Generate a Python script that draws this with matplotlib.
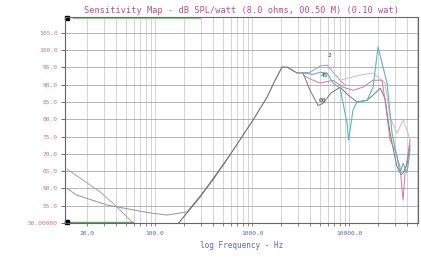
import matplotlib

matplotlib.use("Agg")
import matplotlib.pyplot as plt
from matplotlib.ticker import FixedLocator, NullFormatter, LogLocator

# --- data (Hz, dB SPL) ---
main_f = [175, 291, 593, 1024, 1428, 1727, 2038, 2296, 2911, 3356]
main_db = [50.0, 57.5, 69.7, 79.8, 86.4, 91.3, 95.1, 95.1, 93.4, 93.4]

dark_f = [3356, 3962, 4800, 5395, 6500, 8079, 9800, 12080, 15330, 17680,
          21000, 23500, 26480, 31000, 34500, 36050, 39630, 42540]
dark_db = [93.4, 88.4, 84.0, 84.6, 87.6, 89.3, 87.0, 85.0, 85.5, 87.0,
           89.0, 86.0, 76.0, 66.5, 64.0, 64.5, 67.0, 72.5]

lav_f = [2911, 3962, 5025, 5932, 6843, 8079, 9000]
lav_db = [93.4, 93.6, 95.4, 95.7, 93.6, 91.3, 90.0]

teal_f = [3356, 4256, 5025, 5932, 6843, 8079, 9531, 9900, 10990, 12080,
          15330, 17680, 19910, 24650, 27740, 31250, 33560, 36050, 39630, 42540]
teal_db = [93.4, 93.0, 93.6, 93.4, 90.5, 89.0, 78.9, 74.0, 82.7, 85.0,
           85.5, 89.3, 100.9, 90.5, 76.0, 69.1, 64.5, 67.3, 64.5, 71.1]

pink_f = [3356, 4256, 5025, 6843, 8673, 10990, 13940, 17680, 21890, 23500,
          26480, 29790, 33560, 36050, 37780, 40570, 42540]
pink_db = [92.8, 91.3, 90.5, 91.3, 89.3, 88.4, 89.3, 91.3, 91.3, 85.5,
           74.0, 71.1, 66.2, 56.6, 64.5, 70.2, 74.0]

lpink_f = [8079, 12980, 17680, 23500, 26480, 31250, 36050, 40570, 42540]
lpink_db = [91.3, 92.8, 93.4, 90.5, 80.6, 76.0, 79.8, 76.0, 74.0]

upper_f = [12.4, 16.9, 27.1, 38.7, 59.3]
upper_db = [65.6, 63.0, 59.0, 55.2, 50.0]

mid_f = [12.4, 15.5, 32.0, 88.8, 133, 214, 396, 593]
mid_db = [60.0, 58.1, 55.2, 52.9, 52.3, 53.2, 62.4, 69.7]

green_low_f = [12.4, 59.3]
green_low_db = [50.2, 50.2]
green_top_f = [14.3, 291]
green_top_db = [109.3, 109.3]

angle_labels = ["2", "45", "60"]
angle_f = [6300, 5600, 5300]
angle_db = [98.6, 92.8, 85.3]

y_ticks = [50, 55, 60, 65, 70, 75, 80, 85, 90, 95, 100, 105]
y_tick_labels = ["50.00000", "55.0", "60.0", "65.0", "70.0", "75.0", "80.0",
                 "85.0", "90.0", "95.0", "100.0", "105.0"]
x_ticks = [20, 100, 1000, 10000]
x_tick_labels = ["20.0", "100.0", "1000.0", "10000.0"]

TITLE = "Sensitivity Map - dB SPL/watt (8.0 ohms, 00.50 M) (0.10 wat)"
XLABEL = "log Frequency - Hz"

MONO = "DejaVu Sans Mono"

fig = plt.figure(figsize=(4.21, 2.57), dpi=100)
ax = fig.add_axes([65 / 421, 1 - 223 / 257, 353 / 421, 206 / 257])
ax.set_xscale("log")
ax.set_xlim(11.8, 51400)
ax.set_ylim(50, 109.6)

ax.plot(upper_f, upper_db, color="#a8a8a8", lw=0.7)
ax.plot(mid_f, mid_db, color="#959595", lw=0.7)
ax.plot(main_f, main_db, color="#6e6e6e", lw=0.8)
ax.plot(dark_f, dark_db, color="#777777", lw=0.7)
ax.plot(lav_f, lav_db, color="#9a9ad0", lw=0.7)
ax.plot(lpink_f, lpink_db, color="#eab0c0", lw=0.7)
ax.plot(pink_f, pink_db, color="#dc7890", lw=0.7)
ax.plot(teal_f, teal_db, color="#55b8c4", lw=0.8)
ax.plot(green_low_f, green_low_db, color="#55b055", lw=1.0, clip_on=False)
ax.plot(green_top_f, green_top_db, color="#8ad48a", lw=1.0, clip_on=False)
ax.plot([12.4, 12.4], [50.4, 109.2], ls="none", marker="s", ms=3,
        color="black", clip_on=False)

for lab, f, db in zip(angle_labels, angle_f, angle_db):
    ax.text(f, db, lab, fontsize=4.5, color="#333333", family=MONO,
            ha="center", va="center")

ax.yaxis.set_major_locator(FixedLocator(y_ticks))
ax.set_yticklabels(y_tick_labels)
ax.xaxis.set_major_locator(FixedLocator(x_ticks))
ax.set_xticklabels(x_tick_labels)
ax.xaxis.set_minor_locator(LogLocator(base=10, subs=range(1, 10), numticks=20))
ax.xaxis.set_minor_formatter(NullFormatter())

ax.grid(True, which="major", axis="y", color="#a8a8a8", lw=0.6)
ax.grid(True, which="minor", axis="x", color="#c4c4c4", lw=0.5)
ax.grid(True, which="major", axis="x", color="#c4c4c4", lw=0.5)

ax.tick_params(axis="y", labelsize=4.5, labelcolor="#d0709a", length=3,
               width=0.6, color="#555555", pad=2)
ax.tick_params(axis="x", which="both", labelsize=4.5, labelcolor="#5868b8",
               length=2, width=0.5, color="#555555", pad=4)
for lab in ax.get_xticklabels() + ax.get_yticklabels():
    lab.set_family(MONO)

for spine in ax.spines.values():
    spine.set_color("#666666")
    spine.set_linewidth(0.8)

ax.set_title(TITLE, fontsize=6.2, color="#c04c8c", family=MONO, pad=3,
             loc="center")
ax.set_xlabel(XLABEL, fontsize=5.5, color="#5868b8", family=MONO, labelpad=3)

fig.savefig("out.png", dpi=100, facecolor="white")
